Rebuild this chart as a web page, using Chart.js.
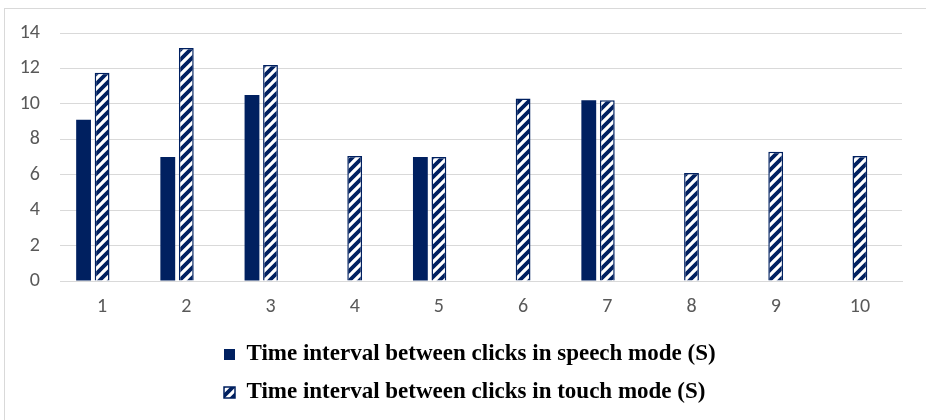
<!DOCTYPE html>
<html>
<head>
<meta charset="utf-8">
<script src="https://cdn.jsdelivr.net/npm/chart.js@4.4.1/dist/chart.umd.min.js"></script>
<style>
  html, body { margin: 0; padding: 0; background: #ffffff; }
  #wrap { position: relative; width: 926px; height: 420px; }
  #frame { position: absolute; left: 4px; top: 8px; width: 940px; height: 440px; border: 1px solid #d9d9d9; pointer-events: none; box-sizing: border-box; }
  canvas { position: absolute; left: 0; top: 0; }
</style>
</head>
<body>
<div id="wrap">
  <canvas id="c" width="926" height="420"></canvas>
  <div id="frame"></div>
</div>
<script>
// ---- Data ----
const categories = ['1', '2', '3', '4', '5', '6', '7', '8', '9', '10'];
const speechValues = [9.1, 7.0, 10.5, null, 7.0, null, 10.2, null, null, null];
const touchValues = [11.75, 13.15, 12.2, 7.05, 7.0, 10.3, 10.2, 6.1, 7.3, 7.05];
const spacerValues = [null, null, null, null, null, null, null, null, null, null];
const seriesLabels = [
  'Time interval between clicks in speech mode (S)',
  'Time interval between clicks in touch mode (S)'
];
const yTicks = [0, 2, 4, 6, 8, 10, 12, 14];

const NAVY = '#002060';

function makeHatch() {
  const s = 10;
  const pc = document.createElement('canvas');
  pc.width = s; pc.height = s;
  const g = pc.getContext('2d');
  g.fillStyle = '#ffffff';
  g.fillRect(0, 0, s, s);
  g.strokeStyle = NAVY;
  g.lineWidth = 3.8;
  g.beginPath();
  g.moveTo(-s, s * 2); g.lineTo(s * 2, -s);
  g.moveTo(-s * 2, s * 2); g.lineTo(s, -s);
  g.moveTo(0, s * 2); g.lineTo(s * 3, -s);
  g.stroke();
  return g.createPattern(pc, 'repeat');
}
const hatch = makeHatch();

const legendShift = {
  id: 'legendShift',
  afterLayout(chart) {
    if (chart.legend) { chart.legend.left = 209; }
  }
};

new Chart(document.getElementById('c'), {
  type: 'bar',
  data: {
    labels: categories,
    datasets: [
      {
        label: seriesLabels[0],
        data: speechValues,
        backgroundColor: NAVY,
        borderColor: NAVY,
        borderWidth: 0,
        barPercentage: 0.8,
        categoryPercentage: 0.66
      },
      {
        label: seriesLabels[1],
        data: touchValues,
        backgroundColor: hatch,
        borderColor: NAVY,
        borderWidth: 1.5,
        barPercentage: 0.8,
        categoryPercentage: 0.66
      },
      {
        label: 'spacer',
        data: spacerValues,
        backgroundColor: 'rgba(0,0,0,0)',
        borderWidth: 0,
        barPercentage: 0.8,
        categoryPercentage: 0.66
      }
    ]
  },
  plugins: [legendShift],
  options: {
    responsive: false,
    animation: false,
    devicePixelRatio: 1,
    layout: { padding: { left: 0, right: 24, top: 33, bottom: 6 } },
    plugins: {
      tooltip: { enabled: false },
      legend: {
        position: 'bottom',
        align: 'start',
        labels: {
          filter: (item) => item.datasetIndex < 2,
          boxWidth: 11,
          boxHeight: 11,
          padding: 15,
          color: '#000000',
          font: { family: '"Liberation Serif", "Times New Roman", serif', size: 23, weight: 'bold' }
        }
      }
    },
    scales: {
      x: {
        grid: { display: false, drawTicks: false },
        border: { display: true, color: '#d9d9d9', width: 1 },
        ticks: {
          padding: 14,
          color: '#595959',
          font: { family: 'Carlito, Lato, "Liberation Sans", sans-serif', size: 20 }
        },
        afterFit: (scale) => { scale.height = 47; }
      },
      y: {
        min: 0,
        max: 14,
        grid: { color: '#d9d9d9', lineWidth: 1, drawTicks: false },
        border: { display: false },
        afterBuildTicks: (scale) => { scale.ticks = yTicks.map(v => ({ value: v })); },
        ticks: {
          padding: 20,
          color: '#595959',
          font: { family: 'Carlito, Lato, "Liberation Sans", sans-serif', size: 20 }
        },
        afterFit: (scale) => { scale.width = 60; }
      }
    }
  }
});
</script>
</body>
</html>
